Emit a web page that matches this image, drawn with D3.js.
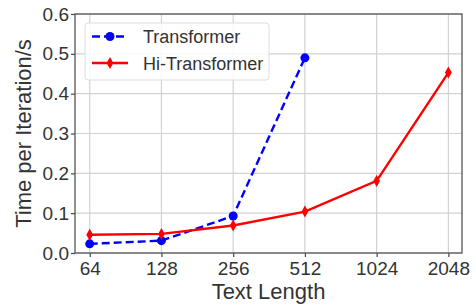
<!DOCTYPE html>
<html lang="en">
<head>
<meta charset="UTF-8">
<title>Time per Iteration</title>
<script src="https://cdn.jsdelivr.net/npm/d3@7"></script>
<style>
  body { margin: 0; background: #fff; }
  text { font-family: "Liberation Sans", Arial, sans-serif; fill: #333; }
</style>
</head>
<body>
<script>
// data
var lengths = ["64", "128", "256", "512", "1024", "2048"];
var transformer = [0.023, 0.031, 0.093, 0.490];
var hiTransformer = [0.046, 0.048, 0.069, 0.104, 0.181, 0.453];
var yTicks = [0, 0.1, 0.2, 0.3, 0.4, 0.5, 0.6];

var width = 476, height = 307;
var plot = { left: 75, right: 462, top: 14, bottom: 253 };

var svg = d3.select("body").append("svg").attr("width", width).attr("height", height);

var x = d3.scaleLinear().domain([-0.205, 5.19]).range([plot.left, plot.right]);
var y = d3.scaleLinear().domain([0, 0.6]).range([plot.bottom, plot.top]);

// grid
svg.append("g").selectAll("line").data(yTicks).enter().append("line")
    .attr("x1", plot.left).attr("x2", plot.right)
    .attr("y1", function (d) { return y(d); }).attr("y2", function (d) { return y(d); })
    .attr("stroke", "#d2d2d2").attr("stroke-width", 1.2);
svg.append("g").selectAll("line").data(lengths).enter().append("line")
    .attr("x1", function (d, i) { return x(i); }).attr("x2", function (d, i) { return x(i); })
    .attr("y1", plot.top).attr("y2", plot.bottom)
    .attr("stroke", "#d2d2d2").attr("stroke-width", 1.2);

// axes
var xAxis = d3.axisBottom(x).tickValues(d3.range(lengths.length))
    .tickFormat(function (i) { return lengths[i]; }).tickSize(4).tickSizeOuter(0).tickPadding(5);
var yAxis = d3.axisLeft(y).tickValues(yTicks).tickFormat(d3.format(".1f"))
    .tickSize(4).tickSizeOuter(0).tickPadding(2);

var gx = svg.append("g").attr("transform", "translate(0," + plot.bottom + ")").call(xAxis);
var gy = svg.append("g").attr("transform", "translate(" + plot.left + ",0)").call(yAxis);
[gx, gy].forEach(function (g) {
    g.select(".domain").remove();
    g.selectAll(".tick line").attr("stroke", "#444").attr("stroke-width", 1.2);
    g.selectAll(".tick text").style("font-size", "19px").attr("fill", "#333");
});

// frame
svg.append("rect").attr("x", plot.left).attr("y", plot.top)
    .attr("width", plot.right - plot.left).attr("height", plot.bottom - plot.top)
    .attr("fill", "none").attr("stroke", "#555").attr("stroke-width", 1.3);

// lines
var line = d3.line().x(function (d, i) { return x(i); }).y(function (d) { return y(d); });

svg.append("path").datum(transformer).attr("d", line)
    .attr("fill", "none").attr("stroke", "#0000ff").attr("stroke-width", 2.4)
    .attr("stroke-dasharray", "8,4");
svg.append("g").selectAll("circle").data(transformer).enter().append("circle")
    .attr("cx", function (d, i) { return x(i); }).attr("cy", function (d) { return y(d); })
    .attr("r", 4.5).attr("fill", "#0000ff");

svg.append("path").datum(hiTransformer).attr("d", line)
    .attr("fill", "none").attr("stroke", "#ff0000").attr("stroke-width", 2.4);
var diamond = "M0,-6L3.4,0L0,6L-3.4,0Z";
svg.append("g").selectAll("path").data(hiTransformer).enter().append("path")
    .attr("d", diamond)
    .attr("transform", function (d, i) { return "translate(" + x(i) + "," + y(d) + ")"; })
    .attr("fill", "#ff0000");

// labels
svg.append("text").attr("x", (plot.left + plot.right) / 2).attr("y", 299)
    .attr("text-anchor", "middle").style("font-size", "22px").text("Text Length");
svg.append("text").attr("transform", "translate(31," + ((plot.top + plot.bottom) / 2) + ") rotate(-90)")
    .attr("text-anchor", "middle").style("font-size", "22px").text("Time per Iteration/s");

// legend
var lg = svg.append("g");
lg.append("rect").attr("x", 85).attr("y", 23).attr("width", 184).attr("height", 57)
    .attr("rx", 3).attr("fill", "#fff").attr("fill-opacity", 0.85)
    .attr("stroke", "#dcdcdc").attr("stroke-width", 1);
lg.append("line").attr("x1", 92).attr("x2", 128).attr("y1", 36.5).attr("y2", 36.5)
    .attr("stroke", "#0000ff").attr("stroke-width", 2.4).attr("stroke-dasharray", "8,4");
lg.append("circle").attr("cx", 110).attr("cy", 36.5).attr("r", 4.5).attr("fill", "#0000ff");
lg.append("text").attr("x", 143).attr("y", 43).style("font-size", "18px").text("Transformer");
lg.append("line").attr("x1", 92).attr("x2", 128).attr("y1", 63).attr("y2", 63)
    .attr("stroke", "#ff0000").attr("stroke-width", 2.4);
lg.append("path").attr("d", diamond).attr("transform", "translate(110,63)").attr("fill", "#ff0000");
lg.append("text").attr("x", 143).attr("y", 70).style("font-size", "18px").text("Hi-Transformer");
</script>
</body>
</html>
